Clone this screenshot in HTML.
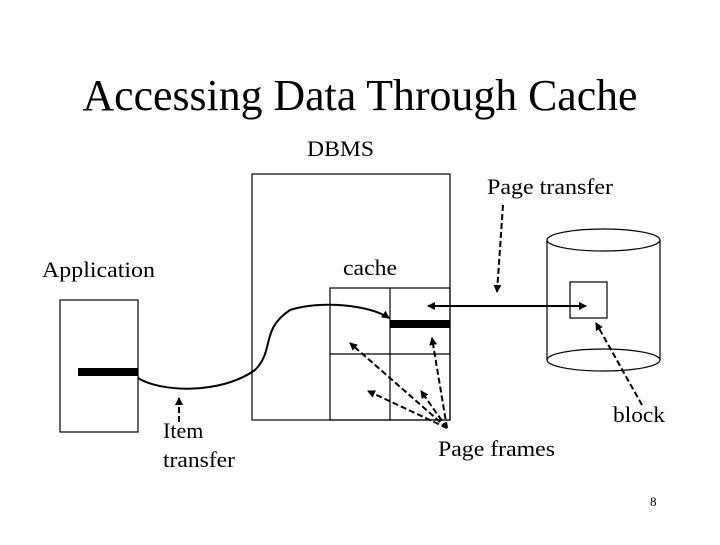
<!DOCTYPE html>
<html><head><style>
body{margin:0;background:#fff}
svg text{font-family:"Liberation Serif",serif;fill:#000}
</style></head><body>
<svg width="720" height="540" xmlns="http://www.w3.org/2000/svg">
<defs>
<marker id="a" markerWidth="8" markerHeight="8" refX="7" refY="4" orient="auto" markerUnits="userSpaceOnUse"><path d="M0,0 L8,4 L0,8 Z" fill="#000"/></marker>
<marker id="b" markerWidth="8" markerHeight="8" refX="1" refY="4" orient="auto" markerUnits="userSpaceOnUse"><path d="M8,0 L0,4 L8,8 Z" fill="#000"/></marker>
</defs>
<text x="360" y="110" font-size="44" text-anchor="middle" textLength="555" lengthAdjust="spacingAndGlyphs">Accessing Data Through Cache</text>
<text x="307" y="156" font-size="22" textLength="67" lengthAdjust="spacingAndGlyphs">DBMS</text>
<text x="487" y="194" font-size="22" textLength="126" lengthAdjust="spacingAndGlyphs">Page transfer</text>
<text x="42" y="277" font-size="22" textLength="113" lengthAdjust="spacingAndGlyphs">Application</text>
<text x="343" y="275" font-size="22" textLength="54" lengthAdjust="spacingAndGlyphs">cache</text>
<text x="163" y="438" font-size="22">Item</text>
<text x="163" y="467" font-size="22" textLength="72" lengthAdjust="spacingAndGlyphs">transfer</text>
<text x="438" y="456" font-size="22" textLength="117" lengthAdjust="spacingAndGlyphs">Page frames</text>
<text x="613" y="422" font-size="22" textLength="52" lengthAdjust="spacingAndGlyphs">block</text>
<text x="650" y="506" font-size="13">8</text>
<g fill="none" stroke="#000" stroke-width="1.2">
<rect x="252" y="174" width="198" height="246"/>
<rect x="330" y="288" width="120" height="132"/>
<line x1="390" y1="288" x2="390" y2="420"/>
<line x1="330" y1="354" x2="450" y2="354"/>
<rect x="60" y="300" width="78" height="132"/>
<path d="M547,240 V360"/><path d="M660,240 V360"/>
<ellipse cx="603.5" cy="240" rx="56.5" ry="11"/>
<path d="M547,360 A56.5,11 0 0 0 660,360"/>
<path d="M547,360 A56.5,11 0 0 1 660,360"/>
<rect x="570" y="282" width="37" height="36"/>
</g>
<rect x="78" y="368" width="60" height="8" fill="#000"/>
<rect x="390" y="320" width="60" height="8" fill="#000"/>
<path d="M138,378 C160,392 220,395 255,370 C275,350 260,330 290,310 C320,300 370,305 389,318" fill="none" stroke="#000" stroke-width="2" marker-end="url(#a)"/>
<line x1="428" y1="306" x2="586" y2="306" stroke="#000" stroke-width="2" marker-start="url(#b)" marker-end="url(#a)"/>
<g stroke="#000" stroke-width="2" stroke-dasharray="6,3" fill="none">
<line x1="179" y1="422" x2="179" y2="398" marker-end="url(#a)"/>
<line x1="503" y1="205" x2="497" y2="292" marker-end="url(#a)"/>
<line x1="642" y1="405" x2="596" y2="323" marker-end="url(#a)"/>
<line x1="447" y1="428" x2="350" y2="343" marker-end="url(#a)"/>
<line x1="447" y1="428" x2="368" y2="391" marker-end="url(#a)"/>
<line x1="447" y1="428" x2="421" y2="391" marker-end="url(#a)"/>
<line x1="447" y1="428" x2="432" y2="338" marker-end="url(#a)"/>
</g>
</svg>
</body></html>
